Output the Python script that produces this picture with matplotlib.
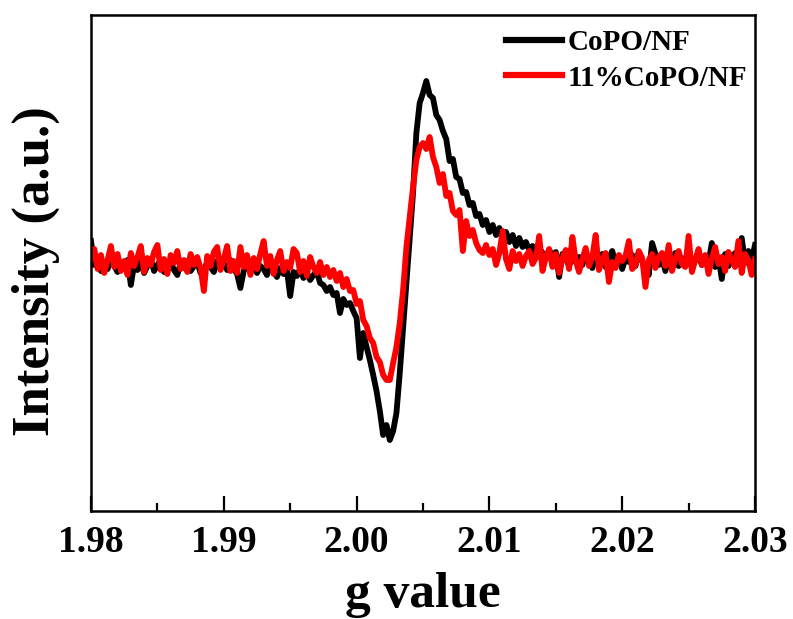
import matplotlib
matplotlib.use('Agg')
import matplotlib.pyplot as plt
import numpy as np
from matplotlib import rc
from matplotlib.ticker import MultipleLocator, FormatStrFormatter

rc('font', **{'family': 'serif', 'serif': ['Liberation Serif'], 'weight': 'bold'})

copo_nf = [
    22, -2, 3, -8, 1, -6, 4, -3, -9, 0,
    -5, 3, -22, -1, -7, 2, -10, -3, 4, -8,
    -2, 3, -9, -4, 1, -7, -12, 0, -5, 2,
    -8, -3, 1, -10, -6, 0, -4, -9, 2, -5,
    -1, -7, 3, -6, -11, -25, -8, -2, -9, -4,
    -10, -3, -6, -12, -2, -8, -14, -5, -11, -7,
    -33, -9, -13, -6, -15, -10, -17, -12, -8, -20,
    -22, -28, -24, -32, -30, -50, -36, -42, -40, -48,
    -55, -95, -70, -84, -97, -112, -128, -148, -172, -162,
    -177, -168, -150, -110, -65, -19, 26, 70, 130, 160,
    170, 182, 168, 165, 148, 143, 132, 124, 102, 104,
    86, 84, 70, 71, 58, 60, 47, 49, 38, 43,
    31, 38, 28, 35, 24, 31, 21, 28, 17, 25,
    16, 21, 13, 17, 9, 15, 10, 4, 13, 7,
    11, -14, 9, 5, -3, 8, 1, 6, -2, 10,
    3, -5, 7, 0, 9, -4, 4, 12, -1, 6,
    -6, 5, 1, 8, -3, 11, 2, -4, -12, 20,
    9, -2, 6, -8, 4, 1, 10, -3, 5, -1,
    7, -5, 3, 8, -2, 5, 0, 20, -4, 6,
    -16, 9, -3, 4, 10, -1, 25, 0, 12, 3,
    18,
]
copo_nf_11 = [
    4, 14, -6, 8, -10, 3, 17, -4, 9, -8,
    2, -12, 10, -3, 6, 17, -9, 5, -2, 11,
    18, -7, 4, -11, 8, 0, 12, -6, 3, -9,
    9, -2, 6, -5, -28, 7, -3, 11, 16, -7,
    4, 17, -8, 2, -10, 16, -4, 8, -12, 5,
    -6, 9, 22, -3, 7, -11, 3, 12, -8, 1,
    -5, 14, 10, -9, 2, -13, 6, -4, -10, 1,
    -12, -4, -14, -7, -18, -10, -24, -16, -28, -27,
    -41, -38, -57, -63, -75, -80, -94, -99, -112, -117,
    -117, -100, -84, -60, -27, 16, 46, 76, 103, 116,
    120, 114, 126, 106, 96, 80, 89, 67, 70, 52,
    48, 53, 12, 42, 27, 33, 20, 13, 10, 18,
    8, 14, -2, 10, 32, 4, -6, 12, 2, 9,
    -3, 7, 12, -1, 5, 27, -8, 6, 14, -4,
    9, -10, 5, 13, -6, 26, 2, -9, 4, 15,
    -3, 6, 28, -7, 3, 10, -19, 1, -5, 8,
    2, 7, 22, -6, -2, 12, 5, -24, 3, 9,
    -5, 6, 10, -3, 18, -8, 4, 12, -1, -4,
    27, -9, 3, 14, -2, 8, -11, 5, 16, -1,
    6, -8, 11, 3, -4, 22, -10, 9, 3, -12,
    4,
]
g_value = np.linspace(1.98, 2.03, len(copo_nf))
labels = ['CoPO/NF', '11%CoPO/NF']

fig = plt.figure(figsize=(7.93, 6.19), dpi=100)
ax = fig.add_axes([91/793, 1 - 511/619, 664/793, 496/619])

ax.plot(g_value, copo_nf, color='black', lw=4.2, label=labels[0])
ax.plot(g_value, copo_nf_11, color='#ff0000', lw=4.2, label=labels[1])

ax.set_xlim(1.98, 2.03)
ax.set_ylim(-248, 248)
ax.xaxis.set_major_locator(MultipleLocator(0.01))
ax.xaxis.set_minor_locator(MultipleLocator(0.005))
ax.xaxis.set_major_formatter(FormatStrFormatter('%.2f'))
ax.set_yticks([])
ax.tick_params(axis='x', which='major', direction='in', length=11, width=1.6,
               labelsize=27, pad=10, top=False)
ax.tick_params(axis='x', which='minor', direction='in', length=6, width=1.6, top=False)
for sp in ax.spines.values():
    sp.set_linewidth(1.8)

ax.set_xlabel('g value', fontsize=37, fontweight='bold', labelpad=9)
ax.set_ylabel('Intensity (a.u.)', fontsize=38, fontweight='bold')
ax.yaxis.set_label_coords(-0.047, 0.484)

leg = ax.legend(loc='upper right', bbox_to_anchor=(0.988, 0.972), frameon=False,
                fontsize=21, handlelength=1.9, handletextpad=0.2, borderpad=0,
                borderaxespad=0, labelspacing=0.3)
for line in leg.get_lines():
    line.set_linewidth(4.5)

fig.savefig('out.png', dpi=100)
